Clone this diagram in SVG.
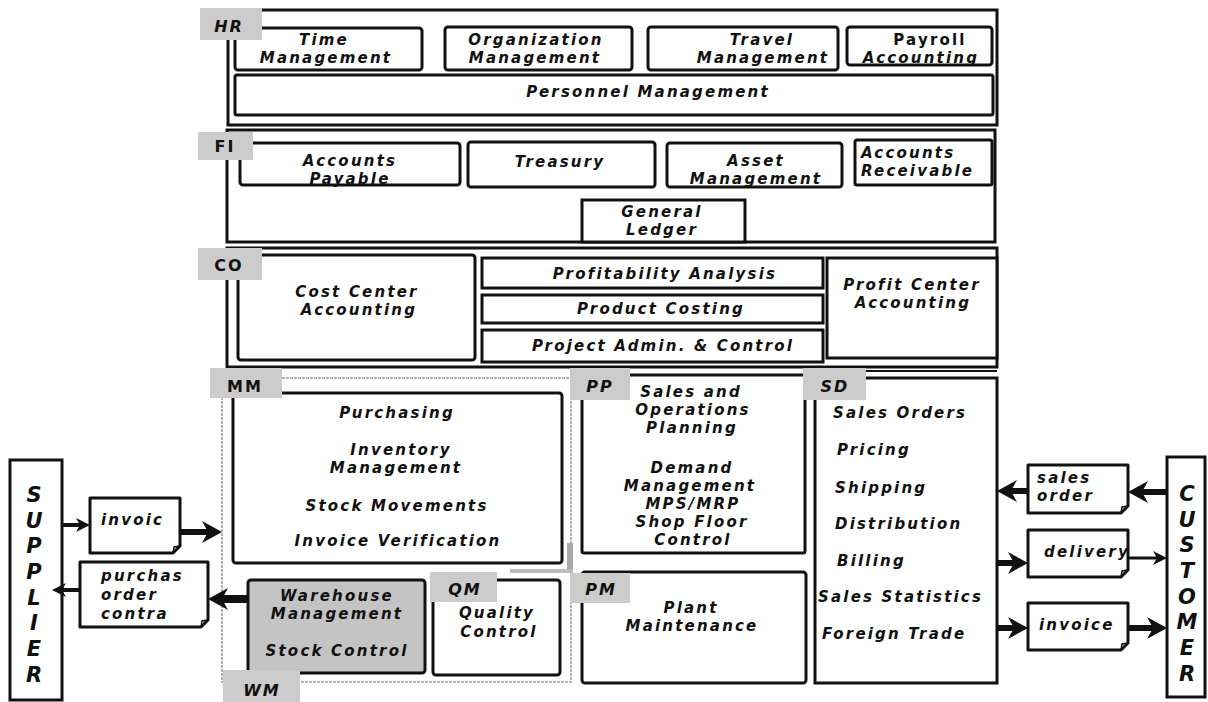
<svg xmlns="http://www.w3.org/2000/svg" width="1208" height="702" viewBox="0 0 1208 702">
<style>
.box{fill:#fff;stroke:#111;stroke-width:3}
.sec{fill:none;stroke:#111;stroke-width:3}
.tag{fill:#cccccc}
.wh{fill:#c4c4c4;stroke:#111;stroke-width:3}
.doc{fill:#fff;stroke:#111;stroke-width:3;stroke-linejoin:round}
.t{font-family:"DejaVu Sans","Liberation Sans",sans-serif;font-weight:bold;font-style:italic;font-size:15px;letter-spacing:2.2px;fill:#111;text-anchor:middle}
.s{text-anchor:start}
.up{font-style:normal}
.tg{font-size:16px;letter-spacing:2px}
.big{font-size:21px;letter-spacing:0}
.ln{stroke:#111;fill:none}
.hd{fill:#111}
</style>
<defs>
<path id="hb" d="M0,0 L-20,-11 L-14,0 L-20,11 Z"/>
<path id="hs" d="M0,0 L-14,-7 L-10,0 L-14,7 Z"/>
</defs>
<rect width="1208" height="702" fill="#fff"/>

<g id="HR">
<rect class="sec" x="228" y="10" width="769" height="115"/>
<rect class="box" x="235" y="28" width="187" height="42" rx="3"/>
<rect class="box" x="445" y="27" width="187" height="43" rx="3"/>
<rect class="box" x="648" y="27" width="190" height="43" rx="3"/>
<rect class="box" x="847" y="27" width="145" height="38" rx="3"/>
<rect class="box" x="235" y="75" width="758" height="40" rx="2"/>
<rect class="tag" x="200" y="8" width="62" height="32"/>
<text class="t tg" x="229" y="32">HR</text>
<text class="t" y="45"><tspan x="324">Time</tspan><tspan x="326" y="63">Management</tspan></text>
<text class="t" y="45"><tspan x="536">Organization</tspan><tspan x="535" y="63">Management</tspan></text>
<text class="t" y="45"><tspan x="762">Travel</tspan><tspan x="763" y="63">Management</tspan></text>
<text class="t" y="45"><tspan x="930" font-style="normal">Payroll</tspan><tspan x="921" y="63">Accounting</tspan></text>
<text class="t" x="648" y="97">Personnel Management</text>
</g>

<g id="FI">
<rect class="sec" x="227" y="130" width="768" height="112"/>
<rect class="box" x="240" y="143" width="220" height="42" rx="3"/>
<rect class="box" x="468" y="142" width="187" height="45" rx="3"/>
<rect class="box" x="667" y="143" width="175" height="44" rx="3"/>
<rect class="box" x="855" y="140" width="137" height="45" rx="2"/>
<rect class="box" x="582" y="200" width="163" height="42"/>
<rect class="tag" x="198" y="132" width="55" height="28"/>
<text class="t tg up" x="225" y="152">FI</text>
<text class="t" y="166"><tspan x="350">Accounts</tspan><tspan x="350" y="184">Payable</tspan></text>
<text class="t" x="560" y="167">Treasury</text>
<text class="t" y="166"><tspan x="756">Asset</tspan><tspan x="756" y="184">Management</tspan></text>
<text class="t s" y="158"><tspan x="861">Accounts</tspan><tspan x="861" y="176">Receivable</tspan></text>
<text class="t" y="217"><tspan x="662">General</tspan><tspan x="662" y="235">Ledger</tspan></text>
</g>

<g id="CO">
<rect class="sec" x="227" y="248" width="770" height="119"/>
<rect class="box" x="238" y="255" width="237" height="105" rx="3"/>
<rect class="box" x="482" y="258" width="341" height="30"/>
<rect class="box" x="482" y="295" width="341" height="28"/>
<rect class="box" x="482" y="330" width="341" height="32"/>
<rect class="box" x="827" y="258" width="170" height="100"/>
<rect class="tag" x="198" y="248" width="64" height="32"/>
<text class="t tg up" x="229" y="271">CO</text>
<text class="t" y="297"><tspan x="357">Cost Center</tspan><tspan x="359" y="315">Accounting</tspan></text>
<text class="t" x="665" y="279">Profitability Analysis</text>
<text class="t" x="661" y="314">Product Costing</text>
<text class="t" x="663" y="351">Project Admin. &amp; Control</text>
<text class="t" y="290"><tspan x="912">Profit Center</tspan><tspan x="913" y="308">Accounting</tspan></text>
</g>

<g id="MM">
<rect x="222" y="378" width="349" height="304" fill="none" stroke="#999" stroke-width="1.5" stroke-dasharray="3 1"/>
<rect x="567" y="543" width="6" height="28" fill="#aaa"/>
<rect x="510" y="569" width="63" height="4" fill="#bbb"/>
<rect class="box" x="233" y="393" width="329" height="170" rx="3"/>
<rect class="tag" x="210" y="368" width="72" height="30"/>
<text class="t tg up" x="245" y="392">MM</text>
<text class="t" x="397" y="418">Purchasing</text>
<text class="t" y="455"><tspan x="401">Inventory</tspan><tspan x="396" y="473">Management</tspan></text>
<text class="t" x="397" y="511">Stock Movements</text>
<text class="t" x="398" y="546">Invoice Verification</text>
</g>

<g id="WM">
<rect class="wh" x="248" y="580" width="177" height="93" rx="3"/>
<rect class="tag" x="223" y="670" width="77" height="32"/>
<text class="t tg" x="262" y="696">WM</text>
<text class="t" y="601"><tspan x="337">Warehouse</tspan><tspan x="337" y="619">Management</tspan></text>
<text class="t" x="337" y="656">Stock Control</text>
</g>

<g id="QM">
<rect class="box" x="433" y="580" width="127" height="95" rx="3"/>
<rect class="tag" x="430" y="572" width="67" height="30"/>
<text class="t tg" x="465" y="595">QM</text>
<text class="t" y="618"><tspan x="497">Quality</tspan><tspan x="499" y="637">Control</tspan></text>
</g>

<g id="PP">
<rect class="box" x="582" y="375" width="223" height="178" rx="2"/>
<rect class="tag" x="570" y="368" width="60" height="32"/>
<text class="t tg" x="600" y="392">PP</text>
<text class="t" y="397"><tspan x="691">Sales and</tspan><tspan x="693" y="415">Operations</tspan><tspan x="692" y="433">Planning</tspan></text>
<text class="t" y="473"><tspan x="692">Demand</tspan><tspan x="690" y="491">Management</tspan><tspan x="693" y="509">MPS/MRP</tspan><tspan x="692" y="527">Shop Floor</tspan><tspan x="693" y="545">Control</tspan></text>
</g>

<g id="PM">
<rect class="box" x="582" y="572" width="224" height="111" rx="3"/>
<rect class="tag" x="570" y="573" width="60" height="30"/>
<text class="t tg" x="601" y="595">PM</text>
<text class="t" y="613"><tspan x="691">Plant</tspan><tspan x="692" y="631">Maintenance</tspan></text>
</g>

<g id="SD">
<line class="ln" x1="866" y1="371" x2="997" y2="371" stroke-width="2"/>
<rect class="box" x="815" y="378" width="182" height="305"/>
<rect class="tag" x="803" y="368" width="63" height="32"/>
<text class="t tg" x="835" y="392">SD</text>
<text class="t s" x="833" y="418">Sales Orders</text>
<text class="t s" x="837" y="455">Pricing</text>
<text class="t s" x="835" y="493">Shipping</text>
<text class="t s" x="835" y="529">Distribution</text>
<text class="t s" x="837" y="566">Billing</text>
<text class="t s" x="818" y="602">Sales Statistics</text>
<text class="t s" x="822" y="639">Foreign Trade</text>
</g>

<g id="SUPPLIER">
<rect class="box" x="10" y="460" width="52" height="240"/>
<text class="t big" y="502"><tspan x="34">S</tspan><tspan x="34" y="528">U</tspan><tspan x="34" y="553">P</tspan><tspan x="34" y="579">P</tspan><tspan x="34" y="605">L</tspan><tspan x="34" y="630">I</tspan><tspan x="34" y="656">E</tspan><tspan x="34" y="682">R</tspan></text>
</g>

<g id="CUSTOMER">
<rect class="box" x="1167" y="457" width="38" height="240"/>
<text class="t big" y="501"><tspan x="1187">C</tspan><tspan x="1187" y="527">U</tspan><tspan x="1187" y="552">S</tspan><tspan x="1187" y="578">T</tspan><tspan x="1187" y="604">O</tspan><tspan x="1187" y="629">M</tspan><tspan x="1187" y="655">E</tspan><tspan x="1187" y="681">R</tspan></text>
</g>

<g id="doc-invoic">
<path class="doc" d="M90,498 H180 V546 L173,553 H90 Z"/>
<path class="ln" d="M173,553 L174,547 L180,546" stroke-width="1.5"/>
<text class="t s" x="101" y="525">invoic</text>
</g>
<g id="doc-purchas">
<path class="doc" d="M80,562 H208 V620 L201,627 H80 Z"/>
<path class="ln" d="M201,627 L202,621 L208,620" stroke-width="1.5"/>
<text class="t s" y="581"><tspan x="101">purchas</tspan><tspan x="101" y="600">order</tspan><tspan x="101" y="619">contra</tspan></text>
</g>
<g id="doc-salesorder">
<path class="doc" d="M1028,465 H1128 V506 L1121,513 H1028 Z"/>
<path class="ln" d="M1121,513 L1122,507 L1128,506" stroke-width="1.5"/>
<text class="t s" y="483"><tspan x="1037">sales</tspan><tspan x="1037" y="501">order</tspan></text>
</g>
<g id="doc-delivery">
<path class="doc" d="M1028,530 H1128 V570 L1121,577 H1028 Z"/>
<path class="ln" d="M1121,577 L1122,571 L1128,570" stroke-width="1.5"/>
<text class="t s" x="1044" y="557">delivery</text>
</g>
<g id="doc-invoice">
<path class="doc" d="M1028,603 H1128 V643 L1121,650 H1028 Z"/>
<path class="ln" d="M1121,650 L1122,644 L1128,643" stroke-width="1.5"/>
<text class="t s" x="1039" y="630">invoice</text>
</g>

<g id="connectors">
<line class="ln" x1="62" y1="525" x2="80" y2="525" stroke-width="4"/>
<use href="#hs" class="hd" transform="translate(90,525)"/>
<line class="ln" x1="180" y1="532" x2="208" y2="532" stroke-width="6"/>
<use href="#hb" class="hd" transform="translate(222,532)"/>
<line class="ln" x1="247" y1="599" x2="222" y2="599" stroke-width="8"/>
<use href="#hb" class="hd" transform="translate(208,599) rotate(180)"/>
<line class="ln" x1="80" y1="590" x2="62" y2="590" stroke-width="4"/>
<use href="#hs" class="hd" transform="translate(52,590) rotate(180)"/>
<line class="ln" x1="1167" y1="492" x2="1142" y2="492" stroke-width="6"/>
<use href="#hb" class="hd" transform="translate(1128,492) rotate(180)"/>
<line class="ln" x1="1028" y1="491" x2="1011" y2="491" stroke-width="6"/>
<use href="#hb" class="hd" transform="translate(997,491) rotate(180)"/>
<line class="ln" x1="997" y1="563" x2="1014" y2="563" stroke-width="6"/>
<use href="#hb" class="hd" transform="translate(1028,563)"/>
<line class="ln" x1="1128" y1="558" x2="1157" y2="558" stroke-width="3"/>
<use href="#hs" class="hd" transform="translate(1167,558)"/>
<line class="ln" x1="997" y1="628" x2="1014" y2="628" stroke-width="6"/>
<use href="#hb" class="hd" transform="translate(1028,628)"/>
<line class="ln" x1="1128" y1="628" x2="1153" y2="628" stroke-width="6"/>
<use href="#hb" class="hd" transform="translate(1167,628)"/>
</g>
</svg>
